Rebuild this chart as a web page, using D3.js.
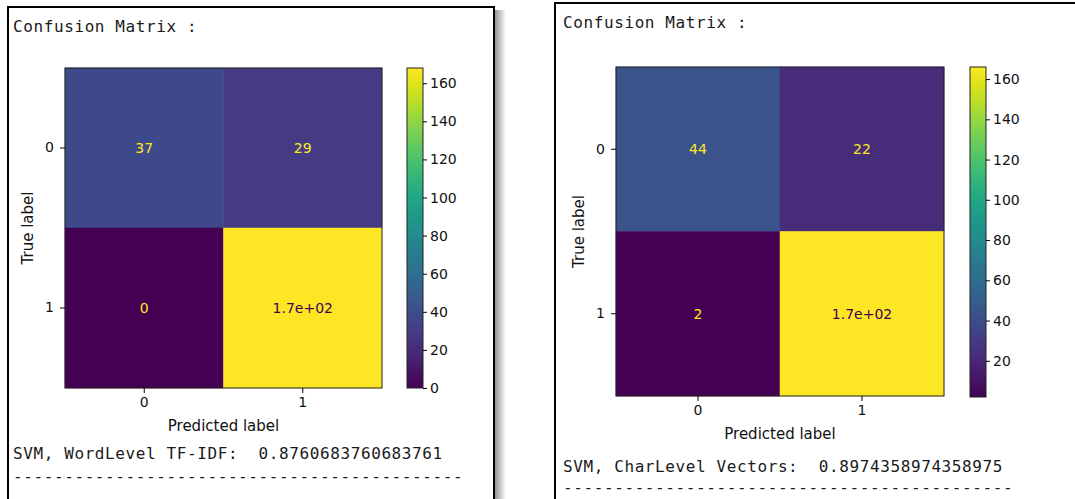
<!DOCTYPE html>
<html>
<head>
<meta charset="utf-8">
<script src="https://cdn.jsdelivr.net/npm/d3@7"></script>
<style>
  body { margin: 0; background: #fff; }
  .mono { font-family: "DejaVu Sans Mono", "Liberation Mono", monospace; font-size: 16px; letter-spacing: 0.6px; fill: #1a1a1a; white-space: pre; }
  .sans { font-family: "DejaVu Sans", sans-serif; fill: #111; }
</style>
</head>
<body>
<div class="box"></div>
<script>
// DATA
const classes = ['0', '1'];
const wordMatrix = [[37, 29], [0, 168]];
const charMatrix = [[44, 22], [2, 166]];
const wordTicks = [0, 20, 40, 60, 80, 100, 120, 140, 160];
const charTicks = [20, 40, 60, 80, 100, 120, 140, 160];
const wordCaption = 'SVM, WordLevel TF-IDF:  0.8760683760683761';
const charCaption = 'SVM, CharLevel Vectors:  0.8974358974358975';
const heading = 'Confusion Matrix :';
const rule = '-'.repeat(44);

const svg = d3.select('.box').append('svg')
  .attr('width', 1075)
  .attr('height', 499);

// shadow behind left frame
const defs = svg.append('defs');
const sh = defs.append('linearGradient').attr('id', 'shadow');
sh.append('stop').attr('offset', '0%').attr('stop-color', '#8a8a8a');
sh.append('stop').attr('offset', '100%').attr('stop-color', '#fff');

svg.append('rect').attr('x', 494).attr('y', 10).attr('width', 12).attr('height', 500)
   .attr('fill', 'url(#shadow)');

// matplotlib-ish '.2g'
function fmt(v) {
  let s = v.toPrecision(2);
  if (s.includes('e')) return s.replace(/e([+-])(\d)$/, 'e$10$2');
  return String(Number(s));
}

function panel(p) {
  const g = svg.append('g');

  // frame
  g.append('rect')
    .attr('x', p.frame[0]).attr('y', p.frame[1])
    .attr('width', p.frame[2]).attr('height', 700)
    .attr('fill', 'none').attr('stroke', '#000').attr('stroke-width', 2);

  g.append('text').attr('class', 'mono')
    .attr('x', p.textX).attr('y', p.titleY)
    .text(heading);

  const x = d3.scaleBand().domain(classes).range([p.x0, p.x1]);
  const y = d3.scaleBand().domain(classes).range([p.y0, p.y1]);
  const flat = p.matrix.flatMap(d => d);
  const lo = d3.min(flat), hi = d3.max(flat);
  const color = d3.scaleSequential(d3.interpolateViridis).domain([lo, hi]);
  const mid = (lo + hi) / 2;

  const cells = [];
  p.matrix.forEach((row, i) => row.forEach((v, j) => cells.push({ r: classes[i], c: classes[j], v })));

  g.selectAll('rect.cell').data(cells).join('rect')
    .attr('class', 'cell')
    .attr('x', d => x(d.c)).attr('y', d => y(d.r))
    .attr('width', x.bandwidth()).attr('height', y.bandwidth())
    .attr('fill', d => color(d.v))
    .attr('stroke', d => color(d.v)).attr('stroke-width', 0.5);

  g.selectAll('text.val').data(cells).join('text')
    .attr('class', 'sans')
    .attr('x', d => x(d.c) + x.bandwidth() / 2)
    .attr('y', d => y(d.r) + y.bandwidth() / 2)
    .attr('text-anchor', 'middle').attr('dominant-baseline', 'central')
    .style('font-size', '14px')
    .style('fill', d => d.v < mid ? d3.interpolateViridis(1) : d3.interpolateViridis(0))
    .text(d => fmt(d.v));

  g.append('rect')
    .attr('x', p.x0).attr('y', p.y0)
    .attr('width', p.x1 - p.x0).attr('height', p.y1 - p.y0)
    .attr('fill', 'none').attr('stroke', '#222').attr('stroke-width', 1);

  const xAxis = g.append('g').attr('transform', `translate(0,${p.y1})`)
    .call(d3.axisBottom(x).tickSize(5).tickPadding(4));
  const yAxis = g.append('g').attr('transform', `translate(${p.x0},0)`)
    .call(d3.axisLeft(y).tickSize(5).tickPadding(6));
  [xAxis, yAxis].forEach(a => {
    a.select('.domain').remove();
    a.selectAll('text').attr('class', 'sans').style('font-size', '14px');
  });

  g.append('text').attr('class', 'sans')
    .attr('x', (p.x0 + p.x1) / 2).attr('y', p.y1 + 43)
    .attr('text-anchor', 'middle').style('font-size', '15px')
    .text('Predicted label');

  g.append('text').attr('class', 'sans')
    .attr('transform', `translate(${p.x0 - 32},${(p.y0 + p.y1) / 2}) rotate(-90)`)
    .attr('text-anchor', 'middle').style('font-size', '15px')
    .text('True label');

  // colorbar
  const cy = d3.scaleLinear().domain([lo, hi]).range([p.cb[2], p.cb[1]]);
  const gid = 'grad' + p.id;
  const lg = defs.append('linearGradient').attr('id', gid)
    .attr('x1', 0).attr('y1', 1).attr('x2', 0).attr('y2', 0);
  d3.range(0, 1.0001, 0.05).forEach(t => {
    lg.append('stop').attr('offset', t).attr('stop-color', d3.interpolateViridis(t));
  });
  g.append('rect')
    .attr('x', p.cb[0]).attr('y', p.cb[1])
    .attr('width', 16).attr('height', p.cb[2] - p.cb[1])
    .attr('fill', `url(#${gid})`).attr('stroke', '#222').attr('stroke-width', 1);
  const cAxis = g.append('g').attr('transform', `translate(${p.cb[0] + 16},0)`)
    .call(d3.axisRight(cy).tickValues(p.ticks).tickSize(4).tickPadding(3));
  cAxis.select('.domain').remove();
  cAxis.selectAll('text').attr('class', 'sans').style('font-size', '14px');

  g.append('text').attr('class', 'mono')
    .attr('x', p.textX).attr('y', p.capY)
    .attr('xml:space', 'preserve')
    .text(p.caption);
  g.append('text').attr('class', 'mono')
    .attr('x', p.textX).attr('y', p.ruleY)
    .text(rule);
}

panel({
  id: 'w', frame: [8, 7, 486], textX: 13, titleY: 32,
  matrix: wordMatrix, x0: 65, x1: 382, y0: 68, y1: 388,
  cb: [407, 68, 388], ticks: wordTicks,
  caption: wordCaption, capY: 459, ruleY: 482
});

panel({
  id: 'c', frame: [555, 3, 600], textX: 563, titleY: 28,
  matrix: charMatrix, x0: 616, x1: 944, y0: 67, y1: 396,
  cb: [970, 67, 397], ticks: charTicks,
  caption: charCaption, capY: 472, ruleY: 493
});
</script>
</body>
</html>
